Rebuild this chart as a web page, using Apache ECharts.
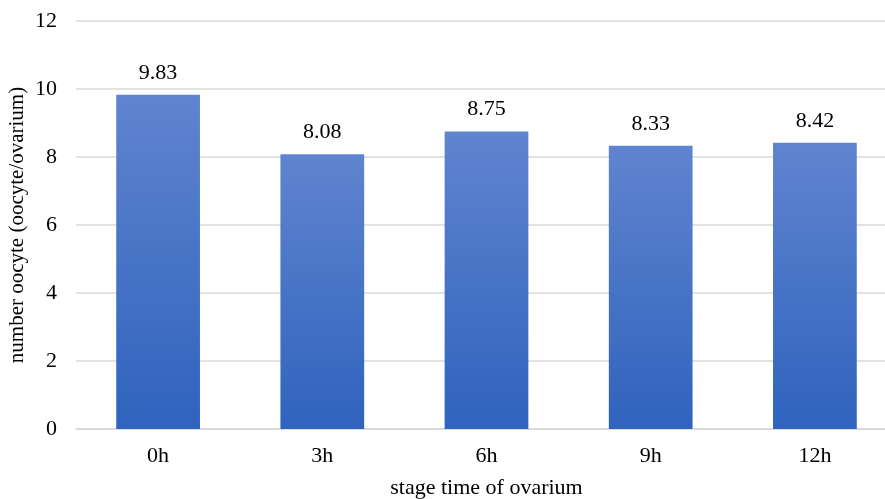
<!DOCTYPE html>
<html><head><meta charset="utf-8">
<script src="https://cdn.jsdelivr.net/npm/echarts@6/dist/echarts.min.js"></script>
<style>html,body{margin:0;padding:0;background:#fff}#c{width:885px;height:499px}</style>
</head><body><div id="c"></div>
<script>
var categories = ['0h', '3h', '6h', '9h', '12h'];
var values = [9.83, 8.08, 8.75, 8.33, 8.42];
var yTicks = [0, 2, 4, 6, 8, 10, 12];
var font = '"Liberation Serif", "Times New Roman", serif';
var chart = echarts.init(document.getElementById('c'));
chart.setOption({
  animation: false,
  grid: { left: 76, right: -12, top: 21, bottom: 70, outerBoundsMode: 'none', containLabel: false },
  xAxis: {
    type: 'category', data: categories,
    axisLine: { lineStyle: { color: '#d9d9d9', width: 1.5 } },
    axisTick: { show: false },
    axisLabel: { color: '#000', fontFamily: font, fontSize: 22, margin: 16 },
    name: 'stage time of ovarium', nameLocation: 'middle', nameGap: 48,
    nameTextStyle: { color: '#000', fontFamily: font, fontSize: 22 }
  },
  yAxis: {
    type: 'value', min: yTicks[0], max: yTicks[yTicks.length - 1], interval: 2,
    axisLine: { show: false }, axisTick: { show: false },
    splitLine: { lineStyle: { color: '#d9d9d9', width: 1.5 } },
    axisLabel: { color: '#000', fontFamily: font, fontSize: 22, margin: 19 },
    name: 'number oocyte (oocyte/ovarium)', nameLocation: 'middle', nameGap: 48,
    nameMoveOverlap: false,
    nameTextStyle: { color: '#000', fontFamily: font, fontSize: 21 }
  },
  series: [{
    type: 'bar', data: values, barWidth: '51%',
    itemStyle: {
      color: new echarts.graphic.LinearGradient(0, 0, 0, 1, [
        { offset: 0, color: '#6084cf' },
        { offset: 1, color: '#2f63bd' }
      ])
    },
    label: {
      show: true, position: 'top', distance: 11, color: '#000',
      fontFamily: font, fontSize: 22,
      formatter: function (p) { return p.value.toFixed(2); }
    }
  }]
});
</script></body></html>
